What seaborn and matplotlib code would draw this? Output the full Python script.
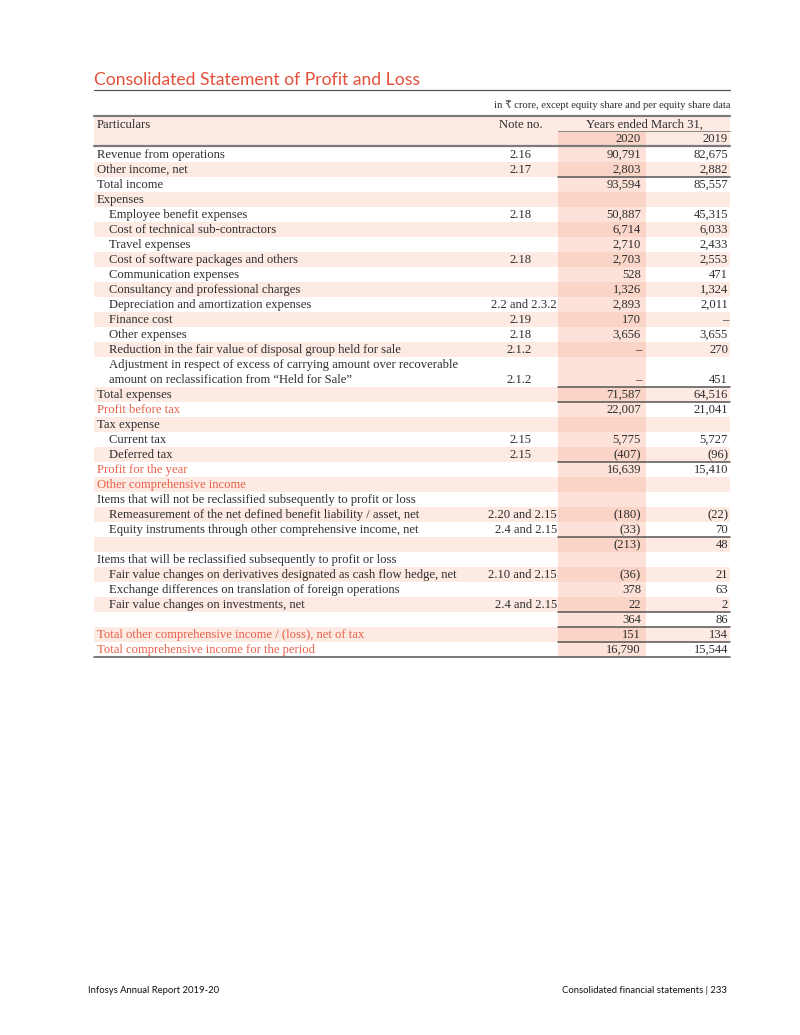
"""Demonstrativo consolidado de resultado - recriação em tabela."""
import matplotlib
matplotlib.use("Agg")
import matplotlib.pyplot as plt
import seaborn as sns

# dados da tabela
particulars = [
    "Revenue from operations", "Other income, net", "Total income", "Expenses",
    "Employee benefit expenses", "Cost of technical sub-contractors", "Travel expenses",
    "Cost of software packages and others", "Communication expenses",
    "Consultancy and professional charges", "Depreciation and amortization expenses",
    "Finance cost", "Other expenses",
    "Reduction in the fair value of disposal group held for sale",
    "Adjustment in respect of excess of carrying amount over recoverable\n"
    "amount on reclassification from \u201cHeld for Sale\u201d",
    "Total expenses", "Profit before tax", "Tax expense", "Current tax", "Deferred tax",
    "Profit for the year", "Other comprehensive income",
    "Items that will not be reclassified subsequently to profit or loss",
    "Remeasurement of the net defined benefit liability / asset, net",
    "Equity instruments through other comprehensive income, net", "",
    "Items that will be reclassified subsequently to profit or loss",
    "Fair value changes on derivatives designated as cash flow hedge, net",
    "Exchange differences on translation of foreign operations",
    "Fair value changes on investments, net", "",
    "Total other comprehensive income / (loss), net of tax",
    "Total comprehensive income for the period",
]
notes = ["2.16", "2.17", "", "", "2.18", "", "", "2.18", "", "", "2.2 and 2.3.2",
         "2.19", "2.18", "2.1.2", "2.1.2", "", "", "", "2.15", "2.15", "", "", "",
         "2.20 and 2.15", "2.4 and 2.15", "", "", "2.10 and 2.15", "", "2.4 and 2.15",
         "", "", ""]
valores_2020 = [90791, 2803, 93594, None, 50887, 6714, 2710, 2703, 528, 1326, 2893,
                170, 3656, 0, 0, 71587, 22007, None, 5775, -407, 16639, None, None,
                -180, -33, -213, None, -36, 378, 22, 364, 151, 16790]
valores_2019 = [82675, 2882, 85557, None, 45315, 6033, 2433, 2553, 471, 1324, 2011,
                0, 3655, 270, 451, 64516, 21041, None, 5727, -96, 15410, None, None,
                -22, 70, 48, None, 21, 63, 2, 86, 134, 15544]
anos = ["2020", "2019"]

# estilo por linha (índices)
linhas_recuo = set(range(4, 15)) | {18, 19, 23, 24, 27, 28, 29}
linhas_vermelhas = {16, 20, 21, 31, 32}
linhas_total = {2, 15, 16, 20, 25, 30, 31, 32}

# cores
COR_TEXTO = "#2e2e2e"
COR_VERMELHO = "#e8604a"
COR_TITULO = "#e2503a"
COR_FAIXA = "#fdeae3"
COR_COL_CLARA = "#fce2d8"
COR_COL_ESCURA = "#fad5c7"
COR_LINHA = "#555555"

sns.set_theme(style="white")
SERIF = ["Liberation Serif", "DejaVu Serif", "DejaVu Sans"]
SANS = ["Lato", "DejaVu Sans"]


def formatar(valor):
    """Formata o valor no padrão do relatório."""
    if valor is None:
        return ""
    if valor == 0:
        return "\u2013"
    if valor < 0:
        return f"({abs(valor):,})"
    return f"{valor:,}"


fig = plt.figure(figsize=(8, 10.35), dpi=100)
ax = fig.add_axes([0, 0, 1, 1])
ax.set_xlim(0, 800)
ax.set_ylim(1035, 0)
ax.axis("off")

X0, X1 = 94, 730
XC0, XC1 = 558, 646  # coluna 2020
FS = 9.1

# título
ax.text(X0, 85, "Consolidated Statement of Profit and Loss", color=COR_TITULO,
        fontsize=12.6, family=SANS, va="baseline", ha="left")
ax.plot([X0, X1], [89.5, 89.5], color=COR_LINHA, lw=0.9)
ax.text(X1, 108, "in \u20b9 crore, except equity share and per equity share data",
        fontsize=7.6, family=SERIF, color=COR_TEXTO, ha="right", va="baseline")

# cabeçalho
ax.fill_between([X0, X1], 115.5, 145.5, color=COR_FAIXA, lw=0)
ax.fill_between([XC0, XC1], 131.5, 145.5, color=COR_COL_ESCURA, lw=0)
ax.plot([X0, X1], [115.5, 115.5], color="#7a7a7a", lw=1.6)
ax.plot([XC0, X1], [131, 131], color="#8a8a8a", lw=0.7)
ax.plot([X0, X1], [145.5, 145.5], color="#7a7a7a", lw=1.6)
ax.text(97, 127.5, "Particulars", fontsize=FS, family=SERIF, color=COR_TEXTO,
        va="baseline")
ax.text(543, 127.5, "Note no.", fontsize=FS, family=SERIF, color=COR_TEXTO,
        va="baseline", ha="right")
ax.text((XC0 + X1) / 2, 127.5, "Years ended March 31,", fontsize=FS, family=SERIF,
        color=COR_TEXTO, va="baseline", ha="center")
for ano, xr in zip(anos, [641, 728]):
    ax.text(xr, 142, ano, fontsize=FS, family=SERIF, color=COR_TEXTO,
            va="baseline", ha="right")

# linhas da tabela
PASSO = 15
topo = 146.5
for i, nome in enumerate(particulars):
    n_linhas = nome.count("\n") + 1
    altura = PASSO * n_linhas
    base = topo + altura
    sombreada = i % 2 == 1
    if sombreada:
        ax.fill_between([X0, X1], topo, base, color=COR_FAIXA, lw=0)
    ax.fill_between([XC0, XC1], topo, base,
                    color=COR_COL_ESCURA if sombreada else COR_COL_CLARA, lw=0)
    if i in linhas_total:
        ax.plot([XC0, X1], [topo, topo], color=COR_LINHA, lw=1.1)

    cor = COR_VERMELHO if i in linhas_vermelhas else COR_TEXTO
    x_texto = 109 if i in linhas_recuo else 97
    for k, parte in enumerate(nome.split("\n")):
        ax.text(x_texto, topo + PASSO * k + 11.5, parte, fontsize=FS, family=SERIF,
                color=cor, va="baseline", ha="left")
    y_val = base - PASSO + 11.5
    if notes[i]:
        x_nota = 557 if "and" in notes[i] else 532
        ax.text(x_nota, y_val, notes[i], fontsize=FS, family=SERIF,
                color=COR_TEXTO, va="baseline", ha="right")
    for valor, xr in zip([valores_2020[i], valores_2019[i]], [641, 728]):
        ax.text(xr, y_val, formatar(valor), fontsize=FS, family=SERIF,
                color=COR_TEXTO, va="baseline", ha="right")
    topo = base

ax.plot([X0, X1], [topo + 0.5, topo + 0.5], color=COR_LINHA, lw=1.1)

# rodapé
ax.text(88, 993, "Infosys Annual Report 2019-20", fontsize=6.8, family=SANS,
        color="#111111", va="baseline", ha="left")
ax.text(727, 993, "Consolidated financial statements | 233", fontsize=6.8,
        family=SANS, color="#111111", va="baseline", ha="right")

fig.savefig("out.png", dpi=100, facecolor="white")
